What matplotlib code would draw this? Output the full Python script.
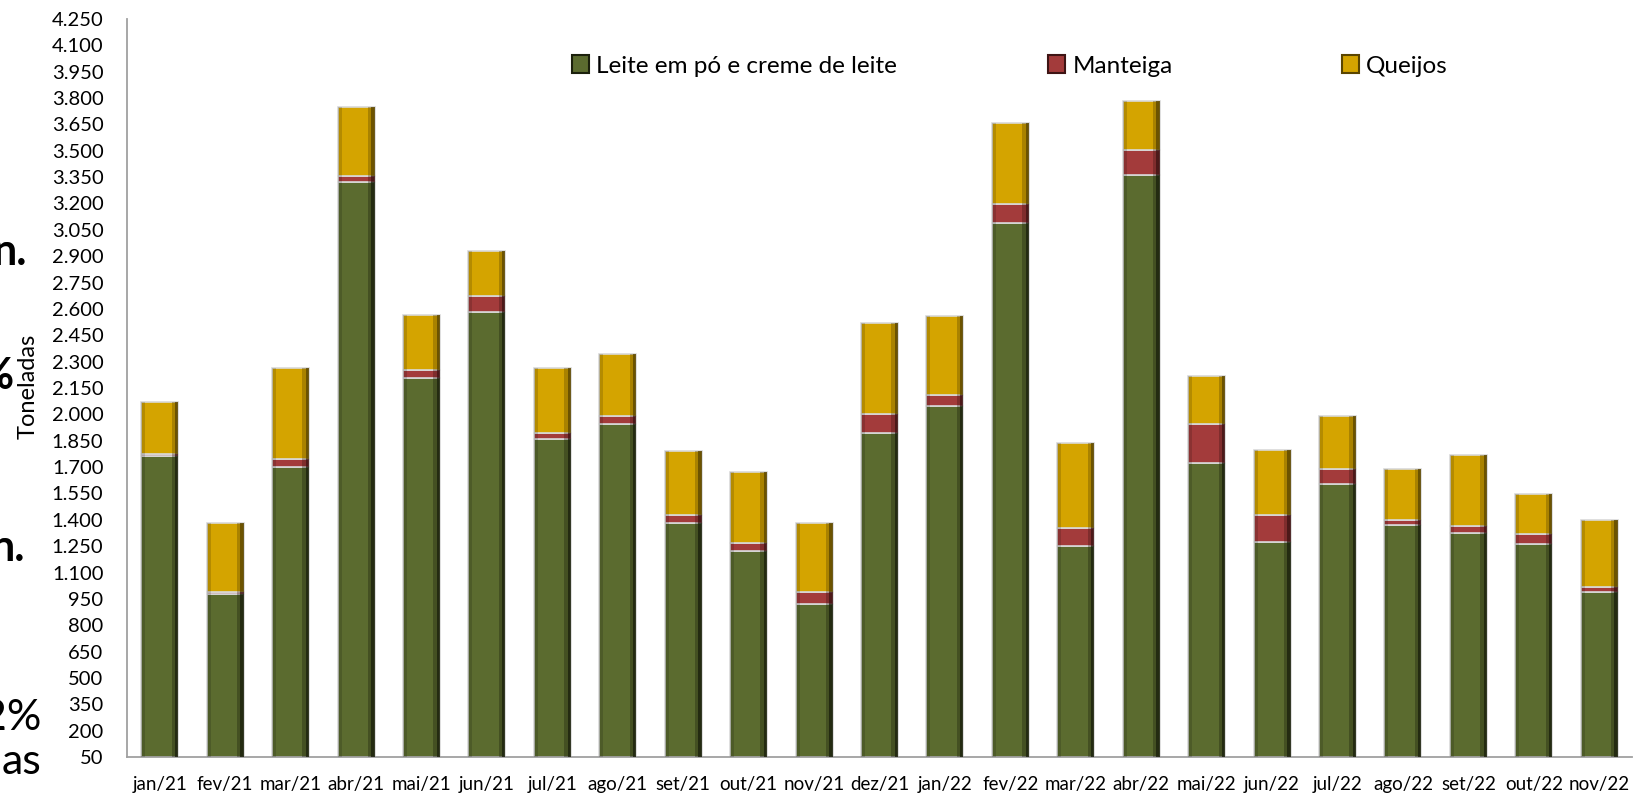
import matplotlib
matplotlib.use("Agg")
import matplotlib.pyplot as plt
import numpy as np
from matplotlib.patches import Patch

# --- data (toneladas) ---
months = ["jan/21", "fev/21", "mar/21", "abr/21", "mai/21", "jun/21", "jul/21",
          "ago/21", "set/21", "out/21", "nov/21", "dez/21", "jan/22", "fev/22",
          "mar/22", "abr/22", "mai/22", "jun/22", "jul/22", "ago/22", "set/22",
          "out/22", "nov/22"]

leite = [1765, 975, 1700, 3320, 2205, 2580, 1860, 1945, 1380, 1220, 920, 1895,
         2050, 3090, 1250, 3360, 1725, 1275, 1605, 1370, 1325, 1260, 990]
manteiga = [10, 15, 45, 35, 50, 95, 35, 45, 50, 50, 70, 105,
            60, 105, 105, 143, 220, 155, 85, 30, 40, 58, 28]
queijos = [295, 390, 520, 397, 313, 255, 368, 355, 362, 404, 393, 520,
           448, 462, 484, 281, 271, 367, 300, 291, 406, 226, 380]

series_names = ["Leite em pó e creme de leite", "Manteiga", "Queijos"]
y_ticks = list(range(50, 4251, 150))
y_tick_labels = [f"{v:,}".replace(",", ".") for v in y_ticks]

colors = ["#5B6B2F", "#A33B3B", "#D4A400"]
dark = ["#1B200C", "#3E1414", "#5A4500"]

plt.rcParams["font.family"] = ["Lato", "DejaVu Sans"]

fig = plt.figure(figsize=(16.36, 7.96), dpi=100)
ax = fig.add_axes([127 / 1636, 1 - 757 / 796, (1632 - 127) / 1636, (757 - 19) / 796])

x = np.arange(len(months))
w = 0.566
s = w * 0.09  # width of the shaded bevel strips

bottom = np.zeros(len(months))
for vals, c, dk in zip([leite, manteiga, queijos], colors, dark):
    vals = np.asarray(vals, dtype=float)
    ax.bar(x, vals, width=w, bottom=bottom, color=c, edgecolor="#D9D9D9",
           linewidth=1.2, zorder=2)
    # right side dark bevel
    ax.bar(x + w / 2 - s / 2, vals, width=s, bottom=bottom, color=dk,
           alpha=0.85, linewidth=0, zorder=3)
    ax.bar(x + w / 2 - 1.5 * s, vals, width=s, bottom=bottom, color=dk,
           alpha=0.35, linewidth=0, zorder=3)
    # left side light bevel
    ax.bar(x - w / 2 + s * 0.6, vals, width=s * 1.2, bottom=bottom, color="black",
           alpha=0.15, linewidth=0, zorder=3)
    bottom += vals

ax.set_xlim(-0.5, len(months) - 0.5)
ax.set_ylim(50, 4250)
ax.set_yticks(y_ticks)
ax.set_yticklabels(y_tick_labels)
ax.set_xticks(x)
ax.set_xticklabels(months)
ax.tick_params(axis="y", length=0, pad=17, labelsize=14.5)
ax.tick_params(axis="x", length=0, pad=14, labelsize=13.5)

for sp in ["top", "right"]:
    ax.spines[sp].set_visible(False)
for sp in ["left", "bottom"]:
    ax.spines[sp].set_color("#A0A0A0")
    ax.spines[sp].set_linewidth(1.3)

fig.text(28 / 1636, 1 - 386 / 796, "Toneladas", rotation=90, ha="center",
         va="center", fontsize=17)

# legend, one entry each so the positions match
leg_x = [572, 1048, 1342]
for i, (name, c) in enumerate(zip(series_names, colors)):
    fig.legend([Patch(facecolor=c, edgecolor=dark[i], linewidth=1.5)], [name],
               loc="center left", bbox_to_anchor=(leg_x[i] / 1636, 1 - 66 / 796),
               frameon=False, fontsize=17.5, handlelength=0.7, handleheight=0.7,
               handletextpad=0.3, borderpad=0, borderaxespad=0)

# fragments of the slide text cut by the left edge
frag = [("n.", 27, 252, "bold"), ("%", 14, 376, "bold"), ("n.", 25, 548, "bold"),
        ("2%", 41, 718, "normal"), ("as", 41, 762, "normal")]
for t, xr, yc, fw in frag:
    fig.text(xr / 1636, 1 - yc / 796, t, ha="right", va="center", fontsize=31,
             fontweight=fw)

fig.savefig("out.png", dpi=100)
